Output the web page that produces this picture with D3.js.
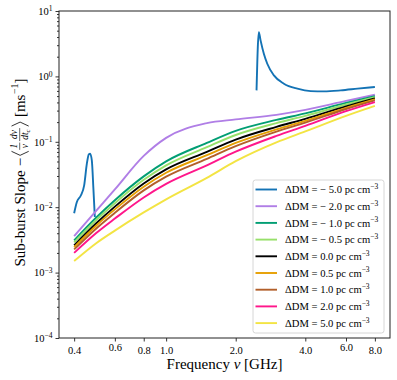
<!DOCTYPE html>
<html>
<head>
<meta charset="utf-8">
<script src="https://cdn.jsdelivr.net/npm/d3@7"></script>
<style>
body { margin: 0; background: #fff; }
svg { font-family: "Liberation Serif", "Times New Roman", serif; }
svg text { white-space: pre; }
</style>
</head>
<body>
<svg id="chart" width="397" height="380"></svg>
<script>
var freqs = [0.4, 0.5, 0.6, 0.8, 1.0, 1.5, 2.0, 3.0, 4.0, 6.0, 8.0];

// sub-burst slope [1/ms] for each DM offset
var dmM2  = [0.00361, 0.00894, 0.0187, 0.0609, 0.115, 0.193, 0.220, 0.258, 0.307, 0.422, 0.525];
var dmM1  = [0.00311, 0.00703, 0.0128, 0.0296, 0.0502, 0.0962, 0.147, 0.216, 0.272, 0.393, 0.500];
var dmM05 = [0.00290, 0.00642, 0.0115, 0.0262, 0.0436, 0.0827, 0.127, 0.193, 0.249, 0.372, 0.483];
var dm0   = [0.00261, 0.00573, 0.0102, 0.0231, 0.0378, 0.0701, 0.108, 0.169, 0.224, 0.348, 0.461];
var dmP05 = [0.00245, 0.00529, 0.00926, 0.0206, 0.0336, 0.0624, 0.0962, 0.155, 0.209, 0.331, 0.445];
var dmP1  = [0.00226, 0.00478, 0.00821, 0.0181, 0.0293, 0.0548, 0.0857, 0.143, 0.196, 0.317, 0.430];
var dmP2  = [0.00200, 0.00406, 0.00670, 0.0141, 0.0227, 0.0436, 0.0706, 0.123, 0.175, 0.294, 0.405];
var dmP5  = [0.00150, 0.00284, 0.00439, 0.00832, 0.0132, 0.0281, 0.0505, 0.0979, 0.144, 0.249, 0.354];

// dDM = -5 breaks into two pieces (negative in between, hidden on log axis)
var m5FreqsA = [0.400, 0.411, 0.4275, 0.442, 0.454, 0.463, 0.469, 0.477, 0.485, 0.4915];
var m5ValsA  = [0.0081, 0.0120, 0.0151, 0.0216, 0.0463, 0.0642, 0.0658, 0.0520, 0.0181, 0.0071];
var m5FreqsB = [2.461, 2.518, 2.562, 2.647, 2.739, 2.926, 3.232, 3.696, 4.221, 4.82, 5.693, 6.725, 8.0];
var m5ValsB  = [0.611, 4.76, 3.55, 2.22, 1.56, 1.035, 0.773, 0.649, 0.596, 0.590, 0.611, 0.649, 0.69];

var dmValues = [-5, -2, -1, -0.5, 0, 0.5, 1, 2, 5];
var colors = ["#1473b5", "#b07ee6", "#019e73", "#97e06a", "#000000", "#e69f00", "#b25f2a", "#ff168a", "#f3e443"];

var xTicks = [0.4, 0.6, 0.8, 1.0, 2.0, 4.0, 6.0, 8.0];
var yTicks = [1e-4, 1e-3, 1e-2, 1e-1, 1e0, 1e1];

var margin = {top: 11, right: 7, bottom: 42, left: 59};
var width = 397, height = 380;
var w = width - margin.left - margin.right;
var h = height - margin.top - margin.bottom;

var svg = d3.select("#chart");
var chart = svg.append("g")
    .attr("transform", "translate(" + margin.left + "," + margin.top + ")");

var x = d3.scaleLog().domain([0.344, 9.30]).range([0, w]);
var y = d3.scaleLog().domain([1e-4, 1e1]).range([h, 0]);

var line = d3.line()
    .x(function(d) { return x(d[0]); })
    .y(function(d) { return y(d[1]); })
    .curve(d3.curveMonotoneX);

function pairs(fs, vs) { return fs.map(function(f, i) { return [f, vs[i]]; }); }

var series = [
  {dm: -5, parts: [pairs(m5FreqsA, m5ValsA), pairs(m5FreqsB, m5ValsB)]},
  {dm: -2, parts: [pairs(freqs, dmM2)]},
  {dm: -1, parts: [pairs(freqs, dmM1)]},
  {dm: -0.5, parts: [pairs(freqs, dmM05)]},
  {dm: 0, parts: [pairs(freqs, dm0)]},
  {dm: 0.5, parts: [pairs(freqs, dmP05)]},
  {dm: 1, parts: [pairs(freqs, dmP1)]},
  {dm: 2, parts: [pairs(freqs, dmP2)]},
  {dm: 5, parts: [pairs(freqs, dmP5)]}
];

series.forEach(function(s, i) {
  s.parts.forEach(function(p) {
    chart.append("path")
      .attr("d", line(p))
      .attr("fill", "none")
      .attr("stroke", colors[i])
      .attr("stroke-width", 1.9)
      .attr("stroke-linejoin", "round");
  });
});

// axes
var xAxis = d3.axisBottom(x).tickValues(xTicks).tickSize(3.5).tickFormat(d3.format(".1f"));
var gx = chart.append("g").attr("transform", "translate(0," + h + ")").call(xAxis);
gx.select(".domain").remove();
gx.selectAll("text")
  .attr("font-family", "Liberation Serif")
  .attr("font-size", 10.5)
  .attr("fill", "#000")
  .attr("y", function(d) { return (d == 0.6 || d == 6) ? 6 : 8.5; });

var yAxis = d3.axisLeft(y).tickValues(yTicks).tickSize(3.5).tickPadding(3);
var gy = chart.append("g").call(yAxis);
gy.select(".domain").remove();
gy.selectAll("text").each(function(d) {
  var t = d3.select(this).text(null)
    .attr("font-family", "Liberation Serif").attr("font-size", 10.5).attr("fill", "#000");
  var e = Math.round(Math.log10(d));
  t.append("tspan").text("10");
  t.append("tspan").attr("dy", "-0.45em").attr("font-size", "0.72em").text(e < 0 ? "\u2212" + (-e) : e);
});

var minors = [];
for (var e = -4; e < 1; e++) for (var k = 2; k < 10; k++) minors.push(k * Math.pow(10, e));
var gm = chart.append("g").call(d3.axisLeft(y).tickValues(minors).tickSize(2).tickFormat(""));
gm.select(".domain").remove();

chart.selectAll(".tick line").attr("stroke", "#000").attr("stroke-width", 0.8);

chart.append("rect")
  .attr("width", w).attr("height", h)
  .attr("fill", "none").attr("stroke", "#222").attr("stroke-width", 1);

// x label
svg.append("text")
  .attr("x", margin.left + w / 2).attr("y", 369)
  .attr("text-anchor", "middle").attr("font-size", 15)
  .html("Frequency <tspan font-style='italic'>\u03bd</tspan> [GHz]");

// y label, built piece by piece (fractions inside angle brackets)
var ylab = svg.append("g");
var inner = ylab.append("g");
var cursor = 0;
function addText(str, size, opts) {
  opts = opts || {};
  var t = inner.append("text").attr("x", cursor).attr("y", opts.y || 0)
    .attr("font-size", size).text(str);
  if (opts.italic) t.attr("font-style", "italic");
  var len = t.node().getComputedTextLength();
  cursor += len;
  return len;
}
function bracket(open) {
  var x0 = cursor + (open ? 4.5 : 0.5), x1 = cursor + (open ? 0.5 : 4.5);
  inner.append("path")
    .attr("d", "M" + x0 + ",-13L" + x1 + ",-4.4L" + x0 + ",4.2")
    .attr("fill", "none").attr("stroke", "#000").attr("stroke-width", 0.8);
  cursor += 6;
}
function fraction(num, den, sub) {
  var a = inner.append("text").attr("y", -7.5).attr("font-size", 9.5).attr("font-style", "italic").text(num);
  var b = inner.append("text").attr("y", 3.8).attr("font-size", 9.5).attr("font-style", "italic").text(den);
  var bw = b.node().getComputedTextLength();
  var s = null, sw = 0;
  if (sub) {
    s = inner.append("text").attr("y", 5.3).attr("font-size", 7).attr("font-style", "italic").text(sub);
    sw = s.node().getComputedTextLength();
  }
  var aw = a.node().getComputedTextLength();
  var fw = Math.max(aw, bw + sw) + 2.5;
  a.attr("x", cursor + (fw - aw) / 2);
  b.attr("x", cursor + (fw - bw - sw) / 2);
  if (s) s.attr("x", cursor + (fw - bw - sw) / 2 + bw);
  inner.append("line")
    .attr("x1", cursor).attr("x2", cursor + fw).attr("y1", -4.8).attr("y2", -4.8)
    .attr("stroke", "#000").attr("stroke-width", 0.6);
  cursor += fw + 1.5;
}
addText("Sub-burst Slope", 15);
cursor += 4;
addText("\u2212", 15);
cursor += 2;
bracket(true);
fraction("1", "\u03bd");
fraction("d\u03bd", "dt", "c");
bracket(false);
cursor += 3.5;
addText("[ms", 15);
cursor += 0.5;
addText("\u22121", 10, {y: -6.5});
addText("]", 15);
inner.attr("transform", "translate(" + (-cursor / 2) + ",0)");
ylab.attr("transform", "translate(24.5," + (margin.top + h / 2 - 2) + ") rotate(-90)");

// legend
var legend = svg.append("g");
legend.append("rect")
  .attr("x", 253).attr("y", 180).attr("width", 131).attr("height", 153).attr("rx", 2.5)
  .attr("fill", "#fff").attr("fill-opacity", 0.8)
  .attr("stroke", "#cccccc").attr("stroke-width", 0.8);

dmValues.forEach(function(d, i) {
  var yy = 189.5 + i * 16.7;
  legend.append("line")
    .attr("x1", 255.5).attr("x2", 277).attr("y1", yy).attr("y2", yy)
    .attr("stroke", colors[i]).attr("stroke-width", 1.9);
  var lbl = d < 0 ? "\u2212 " + Math.abs(d).toFixed(1) : d.toFixed(1);
  var t = legend.append("text")
    .attr("x", 285).attr("y", yy + 3.6).attr("font-size", 10.6);
  t.append("tspan").text("\u0394DM = " + lbl + " pc cm");
  t.append("tspan").attr("dy", -4.2).attr("font-size", 7.5).text("\u22123");
});
</script>
</body>
</html>
